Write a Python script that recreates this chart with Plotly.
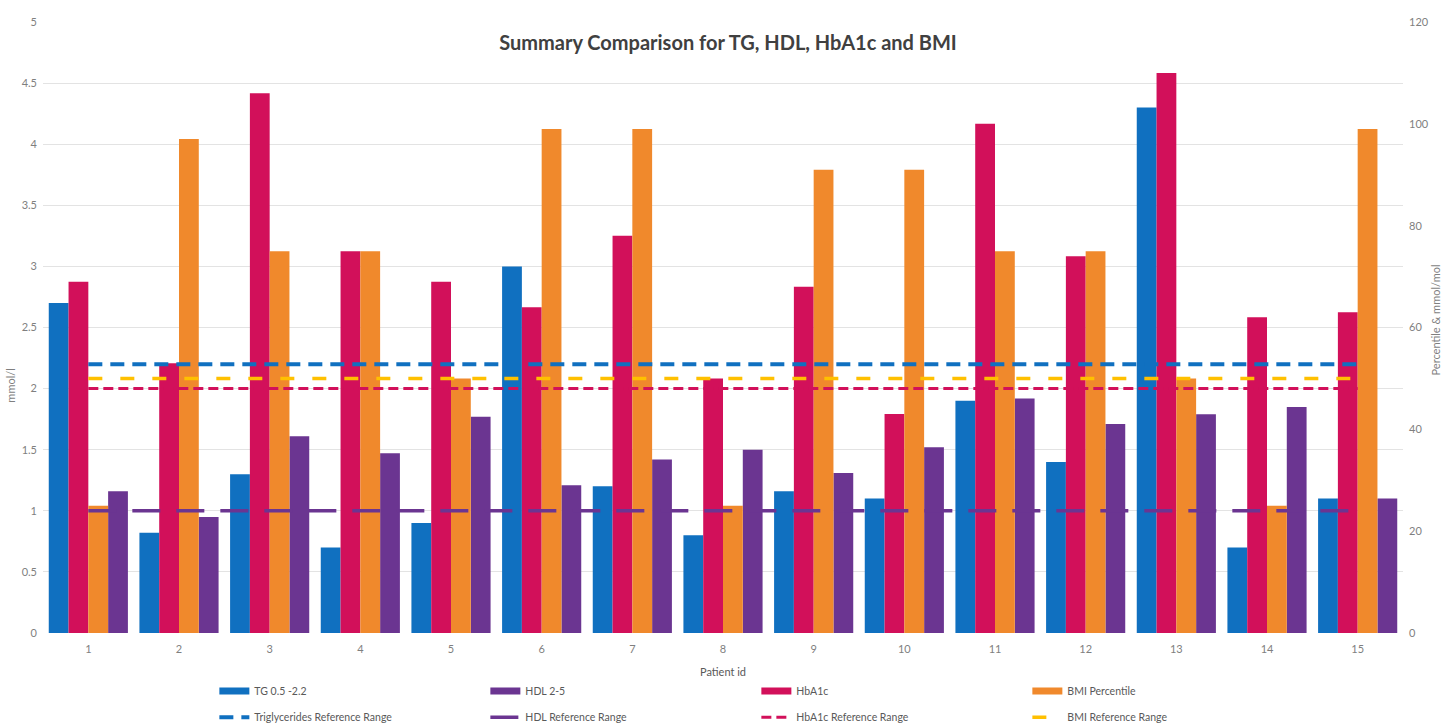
import plotly.graph_objects as go

# Patient measurements
patients = list(range(1, 16))
tg = [2.7, 0.82, 1.3, 0.7, 0.9, 3.0, 1.2, 0.8, 1.16, 1.1, 1.9, 1.4, 4.3, 0.7, 1.1]        # mmol/l
hdl = [1.16, 0.95, 1.61, 1.47, 1.77, 1.21, 1.42, 1.5, 1.31, 1.52, 1.92, 1.71, 1.79, 1.85, 1.1]  # mmol/l
hba1c = [69, 53, 106, 75, 69, 64, 78, 50, 68, 43, 100, 74, 110, 62, 63]                 # mmol/mol
bmi_pct = [25, 97, 75, 75, 50, 99, 99, 25, 91, 91, 75, 75, 50, 25, 99]                 # percentile

# Reference thresholds
tg_ref = 2.2
hdl_ref = 1.0
hba1c_ref = 48
bmi_ref = 50

left_ticks = [0, 0.5, 1, 1.5, 2, 2.5, 3, 3.5, 4, 4.5, 5]
right_ticks = [0, 20, 40, 60, 80, 100, 120]

BLUE = "#1070C0"
PURPLE = "#6B3591"
CRIMSON = "#D2105A"
ORANGE = "#F0892C"
YELLOW = "#FFC000"
FONT = "Lato"
GREY = "#7f7f7f"

fig = go.Figure()

bar_specs = [
    ("TG 0.5 -2.2", tg, BLUE, "y", "tg"),
    ("HbA1c", hba1c, CRIMSON, "y2", "hba1c"),
    ("BMI Percentile", bmi_pct, ORANGE, "y2", "bmi"),
    ("HDL 2-5", hdl, PURPLE, "y", "hdl"),
]
for name, vals, color, yax, grp in bar_specs:
    fig.add_trace(go.Bar(
        x=patients, y=vals, name=name, marker=dict(color=color, line=dict(width=0)),
        yaxis=yax, alignmentgroup="all", offsetgroup=grp, showlegend=False,
    ))

# Legend keys for the bar series (wide swatches)
for rank, (name, color) in enumerate([("TG 0.5 -2.2", BLUE), ("HDL 2-5", PURPLE),
                                      ("HbA1c", CRIMSON), ("BMI Percentile", ORANGE)]):
    fig.add_trace(go.Scatter(
        x=[None], y=[None], mode="lines", name=name, line=dict(color=color, width=7),
        legend="legend", legendrank=rank + 1, hoverinfo="skip",
    ))

# Reference range lines
x_span = [patients[0], patients[-1]]
ref_specs = [
    ("Triglycerides Reference Range", tg_ref, BLUE, "y3", dict(width=4, dash="14px,8px")),
    ("HDL Reference Range", hdl_ref, PURPLE, "y3", dict(width=3.5, dash="28px,16px")),
    ("HbA1c Reference Range", hba1c_ref, CRIMSON, "y4", dict(width=3, dash="10px,5px")),
    ("BMI Reference Range", bmi_ref, YELLOW, "y4", dict(width=3.5, dash="14px,18px")),
]
for rank, (name, val, color, yax, style) in enumerate(ref_specs):
    fig.add_trace(go.Scatter(
        x=x_span, y=[val, val], mode="lines", name=name, yaxis=yax,
        line=dict(color=color, **style), legend="legend2", legendrank=rank + 1,
    ))

tick_font = dict(family=FONT, size=11, color=GREY)
legend_font = dict(family=FONT, size=10.5, color="#595959")

fig.update_layout(
    width=1456, height=727,
    margin=dict(l=43, r=53, t=22, b=94, autoexpand=False),
    paper_bgcolor="white", plot_bgcolor="white",
    barmode="group", bargap=0.127, bargroupgap=0,
    font=dict(family=FONT, color=GREY),
    title=dict(text="<b>Summary Comparison for TG, HDL, HbA1c and BMI</b>",
               x=0.5, xanchor="center", y=1 - 43 / 727, yanchor="middle",
               font=dict(family=FONT, size=20, color="#404040")),
    xaxis=dict(
        range=[0.5, 15.5], tickmode="array", tickvals=patients,
        ticktext=[str(p) for p in patients], tickfont=tick_font,
        showgrid=False, zeroline=False, showline=False, ticks="",
        ticklabelstandoff=8,
        title=dict(text="Patient id", font=dict(family=FONT, size=11, color="#595959"), standoff=14),
    ),
    yaxis=dict(
        range=[0, 5], tickmode="array", tickvals=left_ticks,
        ticktext=[f"{t:g}" for t in left_ticks], tickfont=tick_font,
        showgrid=True, gridcolor="#e3e3e3", gridwidth=1, zeroline=False,
        showline=False, ticks="", ticklabelstandoff=5,
    ),
    yaxis2=dict(
        range=[0, 120], overlaying="y", side="right", tickmode="array",
        tickvals=right_ticks, tickfont=tick_font, showgrid=False,
        zeroline=False, showline=False, ticks="", ticklabelstandoff=5,
    ),
    yaxis3=dict(range=[0, 5], overlaying="y", visible=False),
    yaxis4=dict(range=[0, 120], overlaying="y", visible=False),
    legend=dict(orientation="h", x=0.126, xanchor="left", y=-0.071, yanchor="top",
                entrywidth=226, font=legend_font, bgcolor="rgba(0,0,0,0)"),
    legend2=dict(orientation="h", x=0.126, xanchor="left", y=-0.114, yanchor="top",
                 entrywidth=226, font=legend_font, bgcolor="rgba(0,0,0,0)"),
    annotations=[
        dict(text="mmol/l", xref="paper", yref="paper", x=-0.03, y=0.406,
             textangle=-90, showarrow=False, font=dict(family=FONT, size=11, color=GREY)),
        dict(text="Percentile & mmol/mol", xref="paper", yref="paper", x=1.03, y=0.512,
             textangle=-90, showarrow=False, font=dict(family=FONT, size=11, color=GREY)),
    ],
)

fig.write_html("out.html")
